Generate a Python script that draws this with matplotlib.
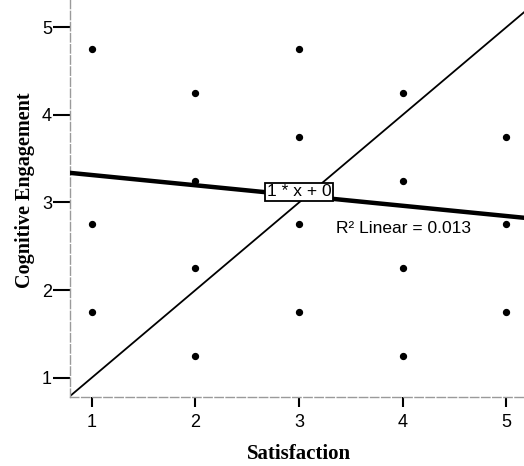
import matplotlib
matplotlib.use("Agg")
import matplotlib.pyplot as plt
import numpy as np

# Observed (satisfaction, engagement) combinations
satisfaction = [1, 1, 1, 2, 2, 2, 2, 3, 3, 3, 3, 4, 4, 4, 4, 5, 5, 5]
engagement = [4.75, 2.75, 1.75, 4.25, 3.25, 2.25, 1.25,
              4.75, 3.75, 2.75, 1.75, 4.25, 3.25, 2.25, 1.25,
              3.75, 2.75, 1.75]

# Fitted linear regression and reference line y = 1*x + 0
fit_intercept = 3.43
fit_slope = -0.117
ref_slope = 1.0
ref_intercept = 0.0
r_squared = 0.013

x_ticks = [1, 2, 3, 4, 5]
y_ticks = [1, 2, 3, 4, 5]

xlim = (0.79, 5.17)
ylim = (0.78, 5.31)

fig = plt.figure(figsize=(5.24, 4.66), dpi=100)
ax = fig.add_axes([70 / 524, 1 - 397 / 466, 1 - 70 / 524, 397 / 466])
ax.set_xlim(*xlim)
ax.set_ylim(*ylim)

xs = np.array(xlim)
ax.plot(xs, ref_slope * xs + ref_intercept, color="black", lw=1.3, zorder=2)
ax.plot(xs, fit_slope * xs + fit_intercept, color="black", lw=3.2, zorder=3)
ax.scatter(satisfaction, engagement, s=18, color="black", zorder=4)

ax.text(3.0, 3.12, "1 * x + 0", ha="center", va="center", fontsize=12.5,
        family="Liberation Sans", zorder=5,
        bbox=dict(boxstyle="square,pad=0.1", fc="white", ec="black", lw=1.3))
ax.text(3.36, 2.70, f"R\u00b2 Linear = {r_squared:.3f}", ha="left", va="center",
        fontsize=12.5, family="Liberation Sans", zorder=5)

for side in ("top", "right"):
    ax.spines[side].set_visible(False)
for side in ("left", "bottom"):
    ax.spines[side].set_color("#9a9a9a")
    ax.spines[side].set_linewidth(1.0)
    ax.spines[side].set_linestyle((0, (6, 2)))

ax.set_xticks(x_ticks)
ax.set_yticks(y_ticks)
ax.tick_params(axis="y", direction="out", length=12, width=1.5, pad=1,
               labelsize=13, color="black")
ax.tick_params(axis="x", direction="out", length=7, width=1.5, pad=5,
               labelsize=13, color="black")
for lab in ax.get_xticklabels() + ax.get_yticklabels():
    lab.set_family("Liberation Sans")

ax.set_xlabel("Satisfaction", family="Liberation Serif", fontweight="bold",
              fontsize=15)
ax.set_ylabel("Cognitive Engagement", family="Liberation Serif",
              fontweight="bold", fontsize=14.5)
ax.xaxis.set_label_coords(0.504, -0.144)
ax.yaxis.set_label_coords(-0.1, 0.52)
ax.xaxis.label.set_va("center")
ax.yaxis.label.set_va("center")

fig.savefig("out.png", dpi=100)
